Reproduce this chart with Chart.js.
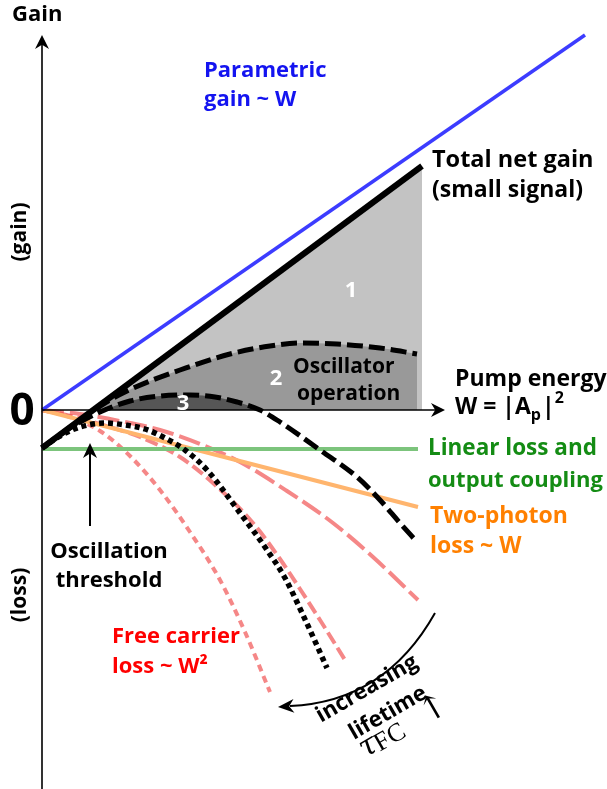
<!DOCTYPE html>
<html>
<head>
<meta charset="utf-8">
<script src="https://cdn.jsdelivr.net/npm/chart.js@4.4.1/dist/chart.umd.min.js"></script>
<style>
    html, body { margin: 0; padding: 0; background: #fff; }
    #wrap { width: 607px; height: 789px; position: relative; }
</style>
</head>
<body>
<div id="wrap"><canvas id="gainChart"></canvas></div>
<script>
// Curves: x = pump energy W, y = gain (arbitrary units)
const parametricW = [0, 54.3];
const parametricGain = [0, 37.5];

const netGainW = [0, 38.0];
const netGain = [-3.8, 24.4];

const linearLossW = [0, 37.6];
const linearLoss = [-3.9, -3.9];

const tpaW = [0, 37.6];
const tpaLoss = [0, -9.7];

// free carrier loss, three carrier lifetimes
const fcLongW = [0, 3.8, 7.8, 11.8, 15.8, 19.8, 24.5, 29.1, 33.1, 37.6];
const fcLong = [0, -0.4, -1.1, -2.0, -3.4, -5.2, -8.1, -11.3, -14.7, -19.0];
const fcMidW = [0, 3.3, 6.8, 9.8, 13.8, 17.1, 21.1, 23.8, 25.8, 27.8, 30.3];
const fcMid = [0, -0.7, -1.7, -2.7, -4.7, -7.3, -11.3, -14.9, -17.9, -21.0, -25.0];
const fcShortW = [0, 2.8, 5.8, 8.8, 11.8, 14.8, 17.8, 20.3, 22.8];
const fcShort = [0, -0.7, -2.1, -4.6, -8.0, -12.2, -17.0, -22.2, -28.2];

// net gain with free carriers, same three lifetimes
const netLongW = [0, 3.8, 6.8, 8.5, 10.8, 13.8, 18.8, 22.8, 25.8, 29.5, 33.8, 37.5];
const netLong = [-3.8, -1.0, 1.0, 1.9, 2.9, 4.0, 5.6, 6.4, 6.7, 6.6, 6.2, 5.6];
const netMidW = [0, 2.8, 5.8, 8.8, 11.8, 14.8, 17.3, 19.5, 21.8, 23.8, 27.8, 31.5, 33.8, 35.8, 37.5];
const netMid = [-3.8, -1.8, -0.2, 0.9, 1.4, 1.5, 1.3, 0.8, 0, -1.2, -4.0, -6.7, -9.0, -11.3, -13.2];
const netShortW = [0, 1.8, 3.8, 6.3, 8.3, 10.3, 12.3, 14.3, 16.5, 19.8, 22.5, 24.3, 26.1, 28.5];
const netShort = [-3.8, -2.6, -1.7, -1.3, -1.5, -1.9, -2.8, -4.0, -6.0, -10.3, -14.0, -16.8, -20.5, -25.8];

const axisEndW = 40.3;
const axisTopGain = 37.5;

function pts(xs, ys) {
    return xs.map((x, i) => ({ x: x, y: ys[i] }));
}

const FONT = '"Open Sans", "DejaVu Sans", sans-serif';
const RED_LINE = 'rgba(240, 70, 70, 0.65)';

function curve(xs, ys, color, width, dash, extra) {
    return Object.assign({
        data: pts(xs, ys),
        borderColor: color,
        borderWidth: width,
        borderDash: dash || [],
        borderCapStyle: 'butt',
        pointRadius: 0,
        fill: false,
        cubicInterpolationMode: 'monotone'
    }, extra || {});
}

function arrowHead(ctx, x, y, angle, len, half) {
    ctx.save();
    ctx.translate(x, y);
    ctx.rotate(angle);
    ctx.beginPath();
    ctx.moveTo(0, 0);
    ctx.lineTo(-len, -half);
    ctx.lineTo(-len * 0.7, 0);
    ctx.lineTo(-len, half);
    ctx.closePath();
    ctx.fill();
    ctx.restore();
}

function label(ctx, text, x, y, color, size, align) {
    ctx.font = 'bold ' + size + 'px ' + FONT;
    ctx.fillStyle = color;
    ctx.textAlign = align || 'left';
    ctx.textBaseline = 'alphabetic';
    ctx.fillText(text, x, y);
}

function rotated(ctx, text, x, y, deg, color, size) {
    ctx.save();
    ctx.translate(x, y);
    ctx.rotate(deg * Math.PI / 180);
    ctx.font = 'bold ' + size + 'px ' + FONT;
    ctx.fillStyle = color;
    ctx.textAlign = 'center';
    ctx.textBaseline = 'middle';
    ctx.fillText(text, 0, 0);
    ctx.restore();
}

const sketch = {
    id: 'sketch',
    afterDatasetsDraw(chart) {
        const ctx = chart.ctx;
        const sx = chart.scales.x, sy = chart.scales.y;
        const ox = sx.getPixelForValue(0), oy = sy.getPixelForValue(0);
        const xEnd = sx.getPixelForValue(axisEndW), yTop = sy.getPixelForValue(axisTopGain);
        ctx.save();

        // axes
        ctx.strokeStyle = '#000';
        ctx.fillStyle = '#000';
        ctx.lineWidth = 1.6;
        ctx.beginPath();
        ctx.moveTo(ox, chart.height);
        ctx.lineTo(ox, yTop + 8);
        ctx.moveTo(ox, oy);
        ctx.lineTo(xEnd - 8, oy);
        ctx.stroke();
        arrowHead(ctx, ox, yTop, -Math.PI / 2, 14, 7);
        arrowHead(ctx, xEnd, oy, 0, 14, 7);

        // threshold arrow
        ctx.beginPath();
        ctx.lineWidth = 2;
        ctx.moveTo(90, 526);
        ctx.lineTo(90, 452);
        ctx.stroke();
        arrowHead(ctx, 90, 443, -Math.PI / 2, 15, 7);

        // lifetime arrow
        ctx.beginPath();
        ctx.lineWidth = 2;
        ctx.moveTo(435, 613);
        ctx.quadraticCurveTo(385, 702, 290, 706);
        ctx.stroke();
        arrowHead(ctx, 278, 707, Math.PI - 0.07, 16, 7);

        // texts
        label(ctx, 'Gain', 12, 21, '#000', 22);
        label(ctx, '0', 22, 425, '#000', 44, 'center');
        rotated(ctx, '(gain)', 20, 232, -90, '#000', 21);
        rotated(ctx, '(loss)', 20, 595, -90, '#000', 21);

        label(ctx, 'Parametric', 204, 77, '#1414f0', 22);
        label(ctx, 'gain ~ W', 204, 106, '#1414f0', 22);

        label(ctx, 'Total net gain', 432, 167, '#000', 23.5);
        label(ctx, '(small signal)', 432, 197, '#000', 23);

        label(ctx, '1', 351, 297, '#fff', 22, 'center');
        label(ctx, '2', 276, 385, '#fff', 22, 'center');
        label(ctx, '3', 183, 410, '#fff', 22, 'center');
        label(ctx, 'Oscillator', 293, 373, '#000', 21);
        label(ctx, 'operation', 297, 400, '#000', 21);

        label(ctx, 'Pump energy', 455, 386, '#000', 23);
        let wx = 455;
        label(ctx, 'W = |A', wx, 414, '#000', 23);
        wx += ctx.measureText('W = |A').width;
        label(ctx, 'p', wx, 420, '#000', 16);
        wx += ctx.measureText('p').width + 1;
        label(ctx, '|', wx, 414, '#000', 23);
        wx += ctx.measureText('|').width;
        label(ctx, '2', wx, 403, '#000', 16);

        label(ctx, 'Linear loss and', 428, 455, '#148c14', 22.5);
        label(ctx, 'output coupling', 428, 487, '#148c14', 22);

        label(ctx, 'Two-photon', 430, 523, '#ff8000', 23);
        label(ctx, 'loss ~ W', 430, 553, '#ff8000', 23);

        label(ctx, 'Oscillation', 109, 558, '#000', 22, 'center');
        label(ctx, 'threshold', 109, 587, '#000', 22, 'center');

        label(ctx, 'Free carrier', 112, 643, '#ff0000', 22);
        label(ctx, 'loss ~ W\u00b2', 112, 673, '#ff0000', 22);

        rotated(ctx, 'increasing', 367, 689, -30, '#000', 22);
        rotated(ctx, 'lifetime', 388, 713, -30, '#000', 22);

        // tau_FC with arrow, math style
        ctx.translate(365, 758);
        ctx.rotate(-30 * Math.PI / 180);
        ctx.fillStyle = '#000';
        ctx.textAlign = 'left';
        ctx.textBaseline = 'alphabetic';
        ctx.font = 'italic 30px "DejaVu Serif", serif';
        ctx.fillText('\u03c4', 0, 0);
        ctx.font = '26px "Liberation Serif", serif';
        ctx.fillText('FC', 16, 2);
        ctx.font = '34px "DejaVu Serif", serif';
        ctx.fillText('\u2191', 70, 2);
        ctx.restore();
    }
};

new Chart(document.getElementById('gainChart').getContext('2d'), {
    type: 'line',
    data: {
        datasets: [
            curve(netGainW, netGain, '#000', 6, [], { tension: 0, fill: { target: 'origin', above: '#c3c3c3', below: 'rgba(0,0,0,0)' }, order: 3 }),
            curve(netMidW, netMid, '#000', 5, [16, 6], { fill: { target: 'origin', above: '#565656', below: 'rgba(0,0,0,0)' }, order: 1 }),
            curve(netLongW, netLong, '#000', 5, [16, 6], { fill: { target: 'origin', above: '#999999', below: 'rgba(0,0,0,0)' }, order: 2 }),
            curve(netShortW, netShort, '#000', 5.5, [5, 4], { order: 4 }),
            curve(parametricW, parametricGain, '#3c3cff', 3.5, [], { tension: 0, order: 5 }),
            curve(linearLossW, linearLoss, '#7cc47c', 4, [], { tension: 0, order: 6 }),
            curve(tpaW, tpaLoss, '#ffb56e', 4, [], { tension: 0, order: 7 }),
            curve(fcLongW, fcLong, RED_LINE, 4, [22, 6], { order: 8 }),
            curve(fcMidW, fcMid, RED_LINE, 4, [13, 5], { order: 9 }),
            curve(fcShortW, fcShort, RED_LINE, 4, [7, 5], { order: 10 })
        ]
    },
    options: {
        responsive: true,
        maintainAspectRatio: false,
        animation: false,
        layout: { padding: 0 },
        plugins: {
            legend: { display: false },
            tooltip: { enabled: false },
            filler: { drawTime: 'beforeDatasetsDraw' }
        },
        scales: {
            x: { type: 'linear', min: -4.2, max: 56.5, display: false },
            y: { type: 'linear', min: -37.9, max: 41, display: false }
        }
    },
    plugins: [sketch]
});
</script>
</body>
</html>
